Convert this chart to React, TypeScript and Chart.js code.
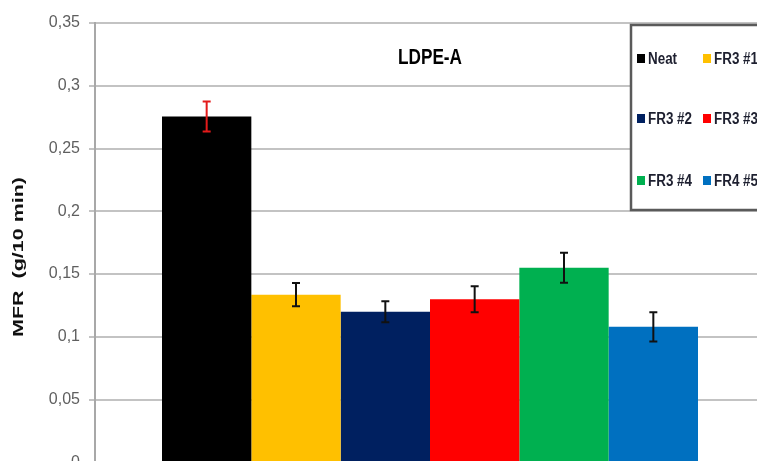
import React, { useEffect, useRef } from "react";
import { Chart, registerables } from "chart.js";

Chart.register(...registerables);

const categories = ["LDPE-A"];
const seriesLabels = ["Neat", "FR3 #1", "FR3 #2", "FR3 #3", "FR3 #4", "FR4 #5"];
const seriesValues = [0.2755, 0.1336, 0.12, 0.13, 0.155, 0.108];
const seriesErrors = [0.012, 0.0092, 0.0084, 0.0104, 0.012, 0.0116];
const seriesColors = ["#000000", "#FFC000", "#002060", "#FF0000", "#00B050", "#0070C0"];
const errorColors = ["#e31a1a", "#111111", "#111111", "#111111", "#111111", "#111111"];
const yTickValues = [0, 0.05, 0.1, 0.15, 0.2, 0.25, 0.3, 0.35];
const chartTitle = "LDPE-A";
const yAxisTitle = "MFR  (g/10 min)";

function drawStretched(
  ctx: CanvasRenderingContext2D,
  text: string,
  x: number,
  y: number,
  capH: number,
  sx: number | null,
  targetW: number | null,
  align: "left" | "center",
  family: string,
  color: string
) {
  const size = capH / 0.716;
  ctx.save();
  ctx.font = `bold ${size}px ${family}`;
  const w = ctx.measureText(text).width;
  const scaleX = targetW ? targetW / w : sx || 1;
  ctx.translate(x, y);
  ctx.scale(scaleX, 1);
  ctx.fillStyle = color;
  ctx.textAlign = align;
  ctx.textBaseline = "middle";
  ctx.fillText(text, 0, 0);
  ctx.restore();
}

const overlayPlugin = {
  id: "overlay",
  afterDatasetsDraw(chart: any) {
    const ctx: CanvasRenderingContext2D = chart.ctx;
    const yScale = chart.scales.y;
    seriesValues.forEach((v, i) => {
      const meta = chart.getDatasetMeta(i);
      const bar = meta.data[0];
      if (!bar) return;
      const x = bar.x;
      const yTop = yScale.getPixelForValue(v + seriesErrors[i]);
      const yBot = yScale.getPixelForValue(v - seriesErrors[i]);
      ctx.save();
      ctx.strokeStyle = errorColors[i];
      ctx.lineWidth = 2;
      ctx.beginPath();
      ctx.moveTo(x, yTop);
      ctx.lineTo(x, yBot);
      ctx.moveTo(x - 4, yTop);
      ctx.lineTo(x + 4, yTop);
      ctx.moveTo(x - 4, yBot);
      ctx.lineTo(x + 4, yBot);
      ctx.stroke();
      ctx.restore();
    });
  },
  afterDraw(chart: any) {
    const ctx: CanvasRenderingContext2D = chart.ctx;
    const area = chart.chartArea;
    ctx.save();
    ctx.fillStyle = "#ffffff";
    ctx.fillRect(631, 25, 160, 185);
    ctx.strokeStyle = "#5a5a5a";
    ctx.lineWidth = 2.5;
    ctx.strokeRect(631, 25, 160, 185);
    ctx.restore();
    const fam = "'Liberation Sans', Arial, sans-serif";
    ctx.save();
    ctx.font = `bold ${12 / 0.716}px ${fam}`;
    const refW = ctx.measureText("FR3 #2").width;
    ctx.restore();
    const legendSx = 44 / refW;
    const rowsY = [59, 119, 181];
    const colsX = [637, 703];
    seriesLabels.forEach((label, i) => {
      const r = Math.floor(i / 2);
      const c = i % 2;
      const sx = colsX[c];
      const sy = rowsY[r];
      ctx.fillStyle = seriesColors[i];
      ctx.fillRect(sx, sy - 5, 8, 9);
      drawStretched(ctx, label, sx + 11, sy, 12, legendSx, null, "left", fam, "#1e2030");
    });
    const cx = (area.left + area.right) / 2;
    drawStretched(ctx, chartTitle, cx, 58, 16, null, 64, "center", fam, "#000000");
    ctx.save();
    ctx.translate(19, 257);
    ctx.rotate(-Math.PI / 2);
    drawStretched(ctx, yAxisTitle, 0, 0, 11, null, 160, "center", fam, "#111111");
    ctx.restore();
  },
};

export default function App() {
  const ref = useRef<HTMLCanvasElement | null>(null);
  useEffect(() => {
    if (!ref.current) return;
    const chart = new Chart(ref.current, {
      type: "bar",
      data: {
        labels: categories,
        datasets: seriesLabels.map((label, i) => ({
          label,
          data: [seriesValues[i]],
          backgroundColor: seriesColors[i],
          borderWidth: 0,
          categoryPercentage: 0.8,
          barPercentage: 1.0,
        })),
      },
      options: {
        responsive: false,
        devicePixelRatio: 1,
        animation: false,
        layout: { padding: { top: 23, bottom: 13.5, left: 0, right: 10 } },
        plugins: {
          legend: { display: false },
          tooltip: { enabled: false },
          title: { display: false },
        },
        scales: {
          x: { display: false },
          y: {
            min: 0,
            max: 0.35,
            afterBuildTicks: (scale: any) => {
              scale.ticks = yTickValues.map((v) => ({ value: v }));
            },
            afterFit: (scale: any) => {
              scale.width = 95;
            },
            grid: {
              color: "#c3c3c3",
              lineWidth: 2,
              tickLength: 6,
              drawTicks: true,
            },
            border: { display: true, color: "#a8a8a8", width: 2 },
            ticks: {
              padding: 9,
              color: "#5f5f5f",
              font: { family: "'Liberation Sans Narrow', Arial, sans-serif", size: 16 },
              callback: (v: any) => Number(Number(v).toFixed(2)).toString().replace(".", ","),
            },
          },
        },
      },
      plugins: [overlayPlugin],
    });
    return () => chart.destroy();
  }, []);
  return (
    <div style={{ position: "absolute", left: 0, top: 0, width: 757, height: 461, overflow: "hidden", background: "#fff" }}>
      <canvas ref={ref} width={775} height={481} style={{ width: 775, height: 481, display: "block" }} />
    </div>
  );
}
